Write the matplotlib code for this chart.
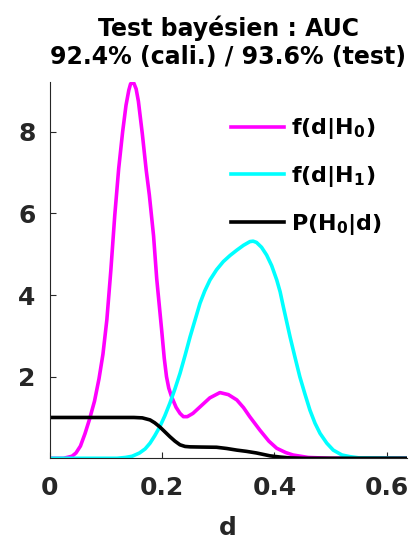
import numpy as np
import matplotlib
matplotlib.use('Agg')
import matplotlib.pyplot as plt

plt.rcParams['font.family'] = ['DejaVu Sans']
plt.rcParams['font.weight'] = 'bold'
plt.rcParams['mathtext.fontset'] = 'custom'
plt.rcParams['mathtext.bf'] = 'DejaVu Sans:bold'
plt.rcParams['mathtext.rm'] = 'DejaVu Sans:bold'
plt.rcParams['mathtext.default'] = 'bf'

# f(d|H0)
x_h0 = [0, 0.025, 0.04, 0.047, 0.055, 0.063, 0.071, 0.08, 0.088, 0.095, 0.102, 0.109, 0.116,
        0.123, 0.13, 0.136, 0.141, 0.144, 0.147, 0.15, 0.154, 0.158, 0.165, 0.172, 0.1775,
        0.185, 0.1906, 0.1994, 0.204, 0.208, 0.212, 0.217, 0.225, 0.232, 0.238, 0.245, 0.255,
        0.2676, 0.285, 0.303, 0.318, 0.333, 0.345, 0.356, 0.374, 0.39, 0.404, 0.42, 0.433,
        0.46, 0.5, 0.635]
y_h0 = [0, 0.0, 0.05, 0.13, 0.3, 0.6, 0.95, 1.4, 1.95, 2.55, 3.4, 4.6, 5.95,
        7.1, 8.0, 8.65, 9.02, 9.17, 9.22, 9.19, 9.05, 8.75, 7.95, 7.05, 6.45,
        5.45, 4.4, 3.14, 2.45, 2.0, 1.72, 1.51, 1.25, 1.1, 1.02, 1.02, 1.1,
        1.26, 1.48, 1.61, 1.56, 1.43, 1.24, 1.02, 0.69, 0.42, 0.245, 0.14, 0.08,
        0.02, 0.0, 0.0]

# f(d|H1)
x_h1 = [0, 0.12, 0.135, 0.147, 0.16, 0.17, 0.1787, 0.187, 0.196, 0.205, 0.214, 0.223, 0.232,
        0.241, 0.25, 0.259, 0.2676, 0.276, 0.2853, 0.297, 0.309, 0.321, 0.333, 0.345, 0.3564,
        0.362, 0.368, 0.377, 0.386, 0.395, 0.404, 0.41, 0.4156, 0.4276, 0.436, 0.445, 0.454,
        0.463, 0.472, 0.481, 0.493, 0.5045, 0.52, 0.534, 0.55, 0.635]
y_h1 = [0, 0.0, 0.02, 0.05, 0.13, 0.23, 0.37, 0.55, 0.77, 1.04, 1.35, 1.7, 2.08,
        2.52, 2.98, 3.4, 3.8, 4.1, 4.37, 4.62, 4.82, 4.97, 5.1, 5.22, 5.31,
        5.32, 5.29, 5.17, 4.98, 4.72, 4.37, 4.08, 3.72, 2.98, 2.5, 2.0, 1.58,
        1.18, 0.86, 0.61, 0.37, 0.2, 0.08, 0.04, 0.01, 0.0]

# P(H0|d)
x_post = [0, 0.15, 0.165, 0.1787, 0.187, 0.196, 0.205, 0.214, 0.223, 0.232, 0.241, 0.25,
          0.27, 0.297, 0.315, 0.333, 0.35, 0.368, 0.38, 0.392, 0.41, 0.427, 0.45, 0.635]
y_post = [1.0, 1.0, 0.99, 0.94, 0.87, 0.77, 0.65, 0.53, 0.42, 0.33, 0.29, 0.28,
          0.275, 0.27, 0.24, 0.2, 0.17, 0.13, 0.095, 0.06, 0.03, 0.01, 0.0, 0.0]

labels = [r'f(d|H$_0$)', r'f(d|H$_1$)', r'P(H$_0$|d)']
colors = ['#ff00ff', '#00ffff', 'black']

fig = plt.figure(figsize=(4.14, 5.41), dpi=100)
ax = fig.add_axes([0.1196, 0.1529, 0.8635, 0.6955])

ax.plot(x_h0, y_h0, color=colors[0], lw=2.6, label=labels[0])
ax.plot(x_h1, y_h1, color=colors[1], lw=2.6, label=labels[1])
ax.plot(x_post, y_post, color=colors[2], lw=2.6, label=labels[2])

ax.set_xlim(0, 0.6356)
ax.set_ylim(0, 9.22)
ax.set_xticks([0, 0.2, 0.4, 0.6])
ax.set_xticklabels(['0', '0.2', '0.4', '0.6'])
ax.set_yticks([2, 4, 6, 8])
ax.tick_params(direction='in', length=4, width=0.8, colors='#262626', labelsize=18)
ax.tick_params(axis='x', pad=13)
ax.tick_params(axis='y', pad=10)
for s in ['top', 'right']:
    ax.spines[s].set_visible(False)
for s in ['left', 'bottom']:
    ax.spines[s].set_color('#262626')
    ax.spines[s].set_linewidth(0.8)

ax.set_xlabel('d', fontsize=18, color='#262626', fontweight='bold', labelpad=11)
ax.set_title('Test bayésien : AUC\n92.4% (cali.) / 93.6% (test)',
             fontsize=17, fontweight='bold', pad=13, linespacing=1.2)

ax.legend(loc='upper right', bbox_to_anchor=(0.986, 0.962), frameon=False, fontsize=16,
          handlelength=2.4, handletextpad=0.3, labelspacing=1.02)

fig.savefig('out.png', dpi=100)
